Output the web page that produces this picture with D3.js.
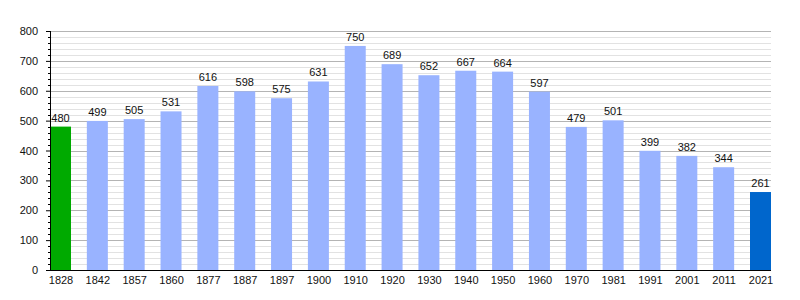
<!DOCTYPE html>
<html>
<head>
<meta charset="utf-8">
<script src="https://cdn.jsdelivr.net/npm/d3@7"></script>
<style>
  body { margin: 0; background: #fff; }
  text { font-family: "Liberation Sans", Arial, sans-serif; font-size: 11px; fill: #111; }
</style>
</head>
<body>
<div id="canvas"></div>
<script>
const years = ['1828','1842','1857','1860','1877','1887','1897','1900','1910','1920','1930','1940','1950','1960','1970','1981','1991','2001','2011','2021'];
const population = [480,499,505,531,616,598,575,631,750,689,652,667,664,597,479,501,399,382,344,261];
const yTicks = [0,100,200,300,400,500,600,700,800];

const W = 800, H = 300;
const mLeft = 50, mRight = 771, mTop = 31, mBottom = 270;
const barW = 21;

const barColor = (i) => i === 0 ? '#00aa00' : (i === years.length - 1 ? '#0066cc' : '#99b3ff');

const svg = d3.select('#canvas').append('svg')
  .attr('width', W).attr('height', H);

const y = d3.scaleLinear().domain([0, 800]).range([mBottom, mTop]);
const x = d3.scalePoint().domain(years).range([mLeft + barW / 2, mRight - barW / 2]);

// grid lines
const minor = d3.range(0, 801, 20).filter(v => v % 100 !== 0);
svg.append('g').selectAll('line').data(minor).enter().append('line')
  .attr('x1', mLeft).attr('x2', mRight)
  .attr('y1', d => Math.round(y(d)) + 0.5).attr('y2', d => Math.round(y(d)) + 0.5)
  .attr('stroke', '#e2e2e2').attr('stroke-width', 1);
svg.append('g').selectAll('line').data(yTicks.slice(1)).enter().append('line')
  .attr('x1', mLeft).attr('x2', mRight)
  .attr('y1', d => Math.round(y(d)) + 0.5).attr('y2', d => Math.round(y(d)) + 0.5)
  .attr('stroke', '#b4b4b4').attr('stroke-width', 1);

// bars
svg.append('g').selectAll('rect').data(population).enter().append('rect')
  .attr('x', (d, i) => x(years[i]) - barW / 2)
  .attr('y', d => y(d))
  .attr('width', barW)
  .attr('height', d => mBottom - y(d))
  .attr('fill', (d, i) => barColor(i));

// value labels
svg.append('g').selectAll('text').data(population).enter().append('text')
  .attr('x', (d, i) => x(years[i]))
  .attr('y', d => y(d) - 5)
  .attr('text-anchor', 'middle')
  .text(d => d);

// y axis
const yAxis = d3.axisLeft(y).tickValues(yTicks).tickSize(4).tickPadding(8);
const gy = svg.append('g').attr('transform', `translate(${mLeft},0)`).call(yAxis);
gy.select('.domain').remove();
gy.selectAll('text').style('font-size', '11px').style('font-family', '"Liberation Sans", Arial, sans-serif').style('fill', '#111');
gy.selectAll('.tick line').attr('stroke', '#000');
svg.append('g').selectAll('line').data(minor).enter().append('line')
  .attr('x1', mLeft - 2).attr('x2', mLeft)
  .attr('y1', d => Math.round(y(d)) + 0.5).attr('y2', d => Math.round(y(d)) + 0.5)
  .attr('stroke', '#000');
svg.append('line').attr('x1', mLeft + 0.5).attr('x2', mLeft + 0.5)
  .attr('y1', mTop).attr('y2', mBottom + 1).attr('stroke', '#000');

// x axis
const xAxis = d3.axisBottom(x).tickSize(0).tickPadding(6);
const gx = svg.append('g').attr('transform', `translate(0,${mBottom})`).call(xAxis);
gx.select('.domain').remove();
gx.selectAll('text').style('font-size', '11px').style('font-family', '"Liberation Sans", Arial, sans-serif').style('fill', '#111');
svg.append('line').attr('x1', mLeft).attr('x2', mRight)
  .attr('y1', mBottom + 0.5).attr('y2', mBottom + 0.5).attr('stroke', '#000');
</script>
</body>
</html>
